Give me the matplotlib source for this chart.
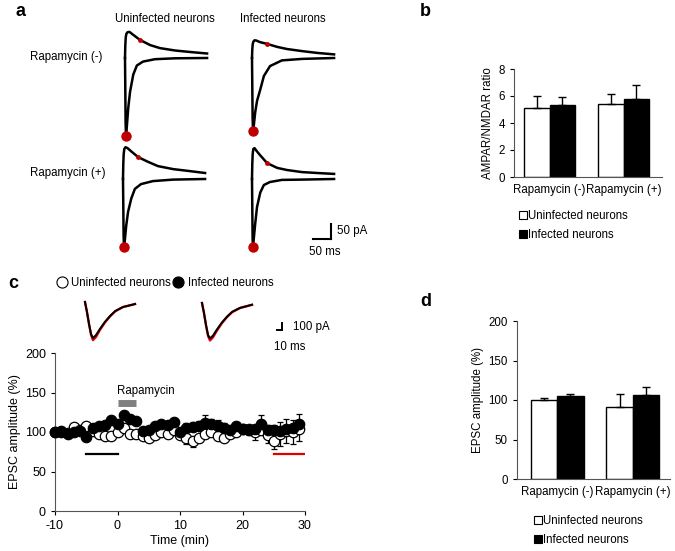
import matplotlib
matplotlib.use('Agg')
import matplotlib.pyplot as plt
from matplotlib.lines import Line2D
import numpy as np

plt.rcParams['font.family'] = ['Liberation Sans', 'DejaVu Sans']
plt.rcParams['font.size'] = 8.3
plt.rcParams['axes.unicode_minus'] = False

W, H = 675, 551

# ---- panel a: example traces (ms, pA) ----
MS_PX = 50 / 18.0   # 50 ms scale bar = 18 px
PA_PX = 50 / 15.0   # 50 pA scale bar = 15 px
T_UP = [0, 0.8, 1.9, 3.6, 7, 12.5, 22, 42, 70, 97, 139, 181, 228]
T_LO = [0, 0.8, 1.7, 2.8, 5, 9, 14, 23, 33, 50, 83, 139, 228]
UP_UNINF_MINUS = [0, 40, 67, 80, 86, 87, 78, 60, 43, 33, 25, 20, 15]
LO_UNINF_MINUS = [0, -100, -217, -260, -230, -167, -113, -55, -25, -12, -4, -1, 0]
UP_INF_MINUS = [0, 28, 45, 54, 59, 58, 53, 47, 37, 30, 23, 17, 12]
LO_INF_MINUS = [0, -93, -200, -243, -225, -180, -143, -105, -60, -27, -8, -3, 0]
UP_UNINF_PLUS = [0, 50, 83, 100, 106, 103, 93, 73, 57, 43, 33, 27, 20]
LO_UNINF_PLUS = [0, -87, -190, -227, -205, -155, -110, -65, -33, -17, -7, -2, 0]
UP_INF_PLUS = [0, 50, 83, 100, 103, 94, 80, 53, 37, 30, 23, 20, 17]
LO_INF_PLUS = [0, -93, -200, -227, -198, -148, -93, -45, -20, -10, -3, -2, 0]
RED_UP_IDX = 7   # NMDA measuring point
RED_LO_IDX = 3   # AMPA peak

# ---- panel b ----
GROUPS = ['Rapamycin (-)', 'Rapamycin (+)']
RATIO_UNINF = [5.1, 5.4]
RATIO_UNINF_ERR = [0.9, 0.75]
RATIO_INF = [5.35, 5.75]
RATIO_INF_ERR = [0.55, 1.05]

# ---- panel c ----
TIME = [-10, -9, -8, -7, -6, -5, -4, -3, -2, -1, 0, 1, 2, 3, 4, 5, 6, 7, 8, 9,
        10, 11, 12, 13, 14, 15, 16, 17, 18, 19, 20, 21, 22, 23, 24, 25, 26, 27, 28, 29]
EPSC_INF = [100, 101, 98, 100, 101, 94, 105, 107, 109, 115, 110, 121, 117, 114, 101, 102, 108, 110, 109, 113,
            100, 105, 106, 107, 112, 110, 107, 105, 103, 107, 104, 103, 104, 110, 103, 102, 101, 104, 105, 110]
EPSC_INF_ERR = [2, 2, 2, 2, 2, 3, 3, 3, 3, 3, 3, 3, 3, 3, 3, 3, 3, 3, 3, 4,
                4, 7, 7, 7, 10, 6, 8, 7, 4, 4, 5, 6, 5, 12, 6, 7, 12, 12, 10, 13]
EPSC_UNINF = [100, 100, 99, 106, 103, 108, 101, 97, 95, 95, 100, 105, 98, 98, 95, 93, 96, 100, 98, 102,
              96, 93, 89, 93, 98, 100, 95, 93, 97, 100, 104, 104, 100, 103, 96, 89, 97, 101, 100, 104]
EPSC_UNINF_ERR = [2, 2, 2, 2, 2, 3, 3, 3, 3, 3, 3, 3, 3, 3, 3, 3, 3, 3, 3, 3,
                  3, 8, 8, 4, 4, 3, 4, 4, 3, 3, 4, 8, 10, 4, 10, 10, 15, 15, 15, 15]

# mini traces above panel c (ms, pA)
MS_PX_C = 10 / 5.5
PA_PX_C = 100 / 7.0
T_MINI = [0, 3.6, 7.3, 11, 14.5, 20, 27, 36, 45.5, 55, 69, 91]
MINI1_BASE = [0, -143, -315, -457, -515, -472, -386, -286, -200, -129, -72, -29]
MINI1_AFTER = [0, -143, -315, -470, -545, -500, -400, -295, -205, -132, -72, -29]
MINI2_BASE = [0, -143, -315, -457, -505, -465, -380, -280, -195, -125, -70, -25]
MINI2_AFTER = [0, -143, -320, -470, -535, -490, -395, -290, -200, -130, -72, -25]

# ---- panel d ----
AMP_UNINF = [100, 91]
AMP_UNINF_ERR = [2, 16]
AMP_INF = [105, 106]
AMP_INF_ERR = [2.5, 11]


def px_axes(fig, left, top, width, height):
    return fig.add_axes([left / W, 1 - (top + height) / H, width / W, height / H])


fig = plt.figure(figsize=(6.75, 5.51), dpi=100)

# panel a traces
cells = [((125, 58), UP_UNINF_MINUS, LO_UNINF_MINUS),
         ((252, 58), UP_INF_MINUS, LO_INF_MINUS),
         ((123, 179), UP_UNINF_PLUS, LO_UNINF_PLUS),
         ((252, 179), UP_INF_PLUS, LO_INF_PLUS)]
trace_axes = []
for (x0, y0), up, lo in cells:
    ax = px_axes(fig, x0 - 10, y0 - 35, 100, 125)
    ax.set_xlim(-10 * MS_PX, 90 * MS_PX)
    ax.set_ylim(-90 * PA_PX, 35 * PA_PX)
    ax.axis('off')
    ax.plot(T_LO, lo, color='black', lw=1.8, solid_joinstyle='round')
    ax.plot(T_UP, up, color='black', lw=1.8, solid_joinstyle='round')
    ax.plot(T_UP[RED_UP_IDX], up[RED_UP_IDX], 'o', color='#c00000', ms=3.5, mec='none')
    ax.plot(T_LO[RED_LO_IDX], lo[RED_LO_IDX], 'o', color='#c00000', ms=7.5, mec='none', clip_on=False)
    trace_axes.append(ax)

# scale bar a
sb = trace_axes[3]
sb.plot([169.6, 219.6], [-200, -200], color='black', lw=1.5)
sb.plot([219.6, 219.6], [-200, -150], color='black', lw=1.5)
fig.text(337 / W, 1 - 231 / H, '50 pA', ha='left', va='center')
fig.text(325 / W, 1 - 252 / H, '50 ms', ha='center', va='center')

fig.text(165 / W, 1 - 19 / H, 'Uninfected neurons', ha='center', va='center')
fig.text(283 / W, 1 - 19 / H, 'Infected neurons', ha='center', va='center')
fig.text(30 / W, 1 - 57 / H, 'Rapamycin (-)', ha='left', va='center')
fig.text(30 / W, 1 - 173 / H, 'Rapamycin (+)', ha='left', va='center')

# panel letters
for letter, x, y in [('a', 15, 12), ('b', 420, 12), ('c', 8, 283), ('d', 420, 301)]:
    fig.text(x / W, 1 - y / H, letter, fontsize=13, fontweight='bold', ha='left', va='center')


def bar_panel(ax, uninf, uninf_err, inf, inf_err, xlim, ylim, yticks, ylabel):
    x = np.arange(len(GROUPS))
    w = 0.35
    ekw = dict(ecolor='black', capsize=3, elinewidth=1, capthick=1)
    ax.bar(x - w / 2, uninf, w, color='white', edgecolor='black', lw=1,
           yerr=[[0] * len(uninf), uninf_err], error_kw=ekw)
    ax.bar(x + w / 2, inf, w, color='black', edgecolor='black', lw=1,
           yerr=[[0] * len(inf), inf_err], error_kw=ekw)
    ax.set_xlim(*xlim)
    ax.set_ylim(*ylim)
    ax.set_yticks(yticks)
    ax.set_xticks(x)
    ax.set_xticklabels(GROUPS)
    ax.tick_params(axis='x', length=0, pad=5)
    ax.tick_params(axis='y', direction='out', length=3)
    ax.set_ylabel(ylabel, labelpad=3)
    for s in ['top', 'right']:
        ax.spines[s].set_visible(False)
    for s in ['left', 'bottom']:
        ax.spines[s].set_color('#555555')
    handles = [Line2D([], [], marker='s', ls='none', mfc='white', mec='black', ms=5.5, mew=0.8),
               Line2D([], [], marker='s', ls='none', mfc='black', mec='black', ms=5.5, mew=0.8)]
    return handles


# panel b
axb = px_axes(fig, 514, 69, 148, 108)
hb = bar_panel(axb, RATIO_UNINF, RATIO_UNINF_ERR, RATIO_INF, RATIO_INF_ERR,
               (-0.48, 1.52), (0, 8), [0, 2, 4, 6, 8], 'AMPAR/NMDAR ratio')
fig.legend(hb, ['Uninfected neurons', 'Infected neurons'], loc='upper left',
           bbox_to_anchor=(514 / W, 1 - 204 / H), frameon=False,
           handlelength=0.6, handletextpad=0.1, labelspacing=0.6, borderpad=0)

# panel d
axd = px_axes(fig, 517, 321, 153, 158)
hd = bar_panel(axd, AMP_UNINF, AMP_UNINF_ERR, AMP_INF, AMP_INF_ERR,
               (-0.53, 1.49), (0, 200), [0, 50, 100, 150, 200], 'EPSC amplitude (%)')
fig.legend(hd, ['Uninfected neurons', 'Infected neurons'], loc='upper left',
           bbox_to_anchor=(529 / W, 1 - 509 / H), frameon=False,
           handlelength=0.6, handletextpad=0.1, labelspacing=0.6, borderpad=0)

# panel c time course
axc = px_axes(fig, 55, 353, 250, 158)
axc.errorbar(TIME, EPSC_UNINF, yerr=[EPSC_UNINF_ERR, [0] * len(TIME)], fmt='o', ms=7.5,
             mfc='white', mec='black', mew=0.9, ecolor='black', elinewidth=0.9, capsize=2.5, capthick=0.9,
             clip_on=False, zorder=2)
axc.errorbar(TIME, EPSC_INF, yerr=[[0] * len(TIME), EPSC_INF_ERR], fmt='o', ms=7.5,
             mfc='black', mec='black', mew=0.9, ecolor='black', elinewidth=0.9, capsize=2.5, capthick=0.9,
             clip_on=False, zorder=3)
axc.plot([0, 3], [137, 137], color='#808080', lw=5, solid_capstyle='butt')
axc.text(0, 152, 'Rapamycin', ha='left', va='center')
axc.plot([-5, 0], [72, 72], color='black', lw=1.6)
axc.plot([25, 30], [72, 72], color='#e00000', lw=1.6)
axc.set_xlim(-10, 30)
axc.set_ylim(0, 200)
axc.set_xticks([-10, 0, 10, 20, 30])
axc.set_yticks([0, 50, 100, 150, 200])
axc.tick_params(labelsize=9, direction='out', length=3)
axc.set_xlabel('Time (min)', fontsize=9, labelpad=2)
axc.set_ylabel('EPSC amplitude (%)', fontsize=9, labelpad=3)
for s in ['top', 'right']:
    axc.spines[s].set_visible(False)
for s in ['left', 'bottom']:
    axc.spines[s].set_color('#555555')

hc = [Line2D([], [], marker='o', ls='none', mfc='white', mec='black', ms=8, mew=0.8),
      Line2D([], [], marker='o', ls='none', mfc='black', mec='black', ms=8, mew=0.8)]
fig.legend(hc, ['Uninfected neurons', 'Infected neurons'], loc='center left',
           bbox_to_anchor=(50 / W, 1 - 283 / H), frameon=False, ncol=2,
           handlelength=1.0, handletextpad=0.35, columnspacing=0.1, borderpad=0)

# mini traces
for (x0, y0), base, after, extra in [((85, 302), MINI1_BASE, MINI1_AFTER, 0),
                                     ((202, 303), MINI2_BASE, MINI2_AFTER, 45)]:
    ax = px_axes(fig, x0 - 5, y0 - 8, 60 + extra, 50)
    ax.set_xlim(-5 * MS_PX_C, (55 + extra) * MS_PX_C)
    ax.set_ylim(-42 * PA_PX_C, 8 * PA_PX_C)
    ax.axis('off')
    ax.plot(T_MINI, after, color='#e00000', lw=1.7)
    ax.plot(T_MINI, base, color='black', lw=1.4)
    if extra:
        ax.plot([136.5, 145.6], [-386, -386], color='black', lw=1.4)
        ax.plot([145.6, 145.6], [-386, -286], color='black', lw=1.4)
fig.text(293 / W, 1 - 327 / H, '100 pA', ha='left', va='center')
fig.text(274 / W, 1 - 347 / H, '10 ms', ha='left', va='center')

fig.savefig('out.png', dpi=100)
